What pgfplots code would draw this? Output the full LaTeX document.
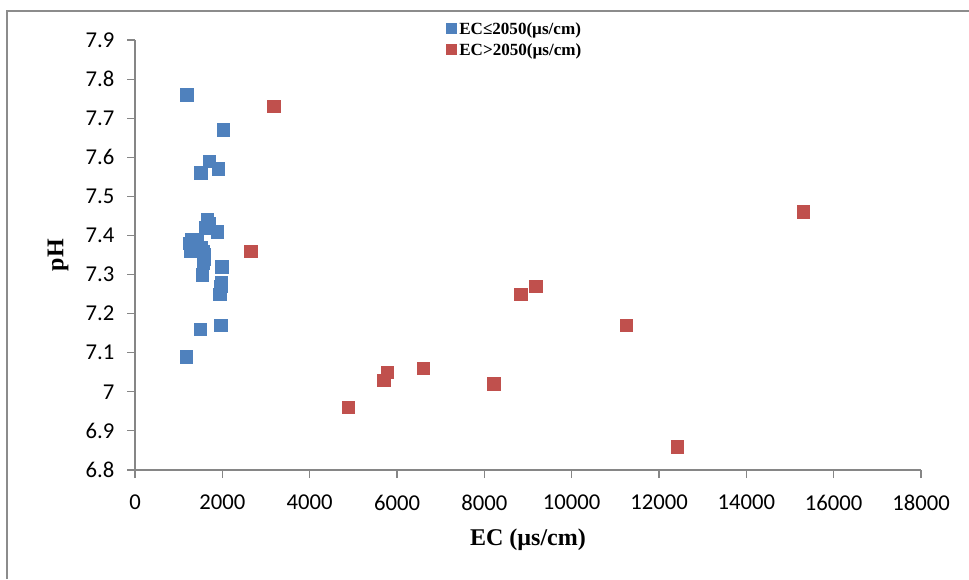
\documentclass[border=0pt]{standalone}
\usepackage{pgfplots}
\pgfplotsset{compat=1.18}
\usepackage{fontspec}
\setmainfont{Liberation Serif}
\newfontfamily\tickfont{Carlito}

\definecolor{lowec}{HTML}{4F81BD}
\definecolor{highec}{HTML}{C0504D}
\definecolor{axgray}{HTML}{868686}
\definecolor{framegray}{HTML}{8C8C8C}

% pH against EC, split at 2050 us/cm
\pgfplotstableread{
ec    ph
1190  7.76
2020  7.67
1700  7.59
1910  7.57
1510  7.56
1660  7.44
1690  7.43
1620  7.42
1880  7.41
1300  7.39
1420  7.39
1250  7.38
1380  7.37
1500  7.37
1280  7.36
1560  7.36
1570  7.35
1580  7.34
1560  7.33
1990  7.32
1540  7.30
1980  7.28
1970  7.27
1940  7.25
1960  7.17
1490  7.16
1170  7.09
}\lowtable

\pgfplotstableread{
ec     ph
3180   7.73
2650   7.36
15300  7.46
4880   6.96
5700   7.03
5780   7.05
6600   7.06
8220   7.02
8840   7.25
9180   7.27
11250  7.17
12420  6.86
}\hightable

\begin{document}
\begin{tikzpicture}
% page of 969 x 579 px at 0.75 pt per px
\useasboundingbox (0pt,0pt) rectangle (726.75pt,434.25pt);
% chart frame
\draw[framegray,line width=1.5pt] (5.25pt,0pt) -- (5.25pt,426pt) -- (726.75pt,426pt);
\begin{axis}[
  at={(101.25pt,81.75pt)}, anchor=south west,
  width=589.5pt, height=322.5pt, scale only axis,
  xmin=0, xmax=18000, ymin=6.8, ymax=7.9,
  xtick={0,2000,...,18000},
  ytick={6.8,6.9,...,7.95},
  axis x line*=bottom, axis y line*=left,
  axis line style={axgray,line width=0.8pt,-},
  tick style={axgray,line width=0.8pt},
  tick align=outside,
  major tick length=6pt,
  scaled x ticks=false,
  /pgf/number format/assume math mode=true,
  xticklabel style={font=\tickfont\fontsize{17}{19}\selectfont,
    /pgf/number format/1000 sep={}, yshift=-9pt},
  yticklabel style={font=\tickfont\fontsize{17}{19}\selectfont,
    /pgf/number format/fixed, /pgf/number format/precision=1, xshift=-6pt},
  xlabel={\bfseries EC (µs/cm)},
  ylabel={\bfseries pH},
  label style={font=\fontsize{18}{21}\selectfont},
  xlabel style={at={(0.5,-0.163)}, anchor=center},
  ylabel style={at={(-0.098,0.5)}, anchor=center},
  legend style={at={(0.394,1.051)}, anchor=north west, draw=none, fill=none,
    font=\bfseries\fontsize{12.8}{15}\selectfont,
    row sep=1.5pt, inner sep=1pt,
    /tikz/every even column/.append style={column sep=2pt}},
  legend cell align=left,
  legend image code/.code={\fill[#1] (0.1cm,-0.1cm) rectangle (0.36cm,0.16cm);},
  clip=false,
]
\addplot[only marks, mark=square*, mark size=4.7pt, color=lowec, mark options={draw=lowec,fill=lowec}]
  table[x=ec,y=ph] {\lowtable};
\addlegendentry{EC≤2050(µs/cm)}
\addplot[only marks, mark=square*, mark size=4.7pt, color=highec, mark options={draw=highec,fill=highec}]
  table[x=ec,y=ph] {\hightable};
\addlegendentry{EC>2050(µs/cm)}
\end{axis}
\end{tikzpicture}
\end{document}
